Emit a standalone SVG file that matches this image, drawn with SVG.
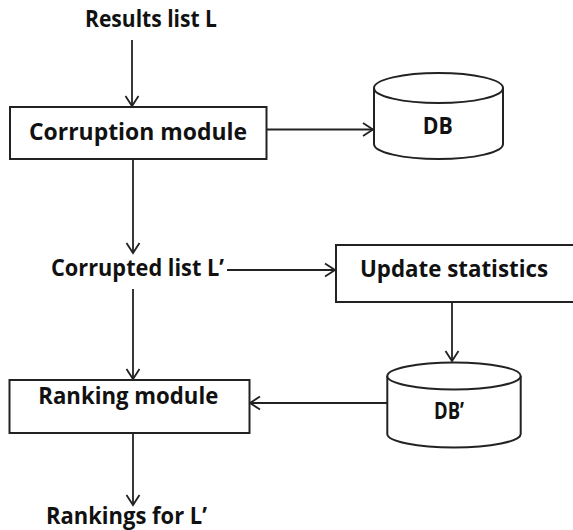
<svg xmlns="http://www.w3.org/2000/svg" width="573" height="530" viewBox="0 0 573 530">
<defs>
<style>
.box{fill:#fff;stroke:#222;stroke-width:2}
.cyl{fill:#fff;stroke:#222;stroke-width:2}
.lbl{font-family:"Open Sans","Liberation Sans",sans-serif;font-weight:bold;font-size:23px;fill:#111;text-anchor:middle}
.con{fill:none;stroke:#222;stroke-width:1.8;marker-end:url(#arr)}
</style>
<marker id="arr" viewBox="-12 -8 14 16" refX="0" refY="0" markerWidth="14" markerHeight="16" markerUnits="userSpaceOnUse" orient="auto">
<path d="M-10,-6.5 L0,0 L-10,6.5" fill="none" stroke="#222" stroke-width="1.8"/>
</marker>
</defs>
<rect width="573" height="530" fill="#fff"/>
<g id="connectors">
<line class="con" x1="132" y1="40" x2="132" y2="106"/>
<line class="con" x1="267" y1="129.5" x2="373" y2="129.5"/>
<line class="con" x1="133" y1="159" x2="133" y2="253"/>
<line class="con" x1="227" y1="270" x2="335" y2="270"/>
<line class="con" x1="133" y1="289" x2="133" y2="379"/>
<line class="con" x1="452" y1="302" x2="452" y2="361"/>
<line class="con" x1="387" y1="403" x2="250" y2="403"/>
<line class="con" x1="133" y1="433" x2="133" y2="505"/>
</g>
<g id="results">
<text class="lbl" x="151" y="27" textLength="132" lengthAdjust="spacingAndGlyphs">Results list L</text>
</g>
<g id="corruption">
<rect class="box" x="10" y="107" width="256.5" height="52"/>
<text class="lbl" x="138" y="139.5" textLength="218" lengthAdjust="spacingAndGlyphs">Corruption module</text>
</g>
<g id="db">
<path class="cyl" d="M374,88 L374,144 A64.5,15 0 0 0 503,144 L503,88"/>
<ellipse class="cyl" cx="438.5" cy="88" rx="64.5" ry="15"/>
<text class="lbl" x="437.7" y="133.5" textLength="30" lengthAdjust="spacingAndGlyphs">DB</text>
</g>
<g id="corrupted">
<text class="lbl" x="137.5" y="275.5" textLength="173" lengthAdjust="spacingAndGlyphs">Corrupted list L’</text>
</g>
<g id="update">
<rect class="box" x="336" y="245" width="245" height="57"/>
<text class="lbl" x="454" y="277" textLength="188" lengthAdjust="spacingAndGlyphs">Update statistics</text>
</g>
<g id="dbprime">
<path class="cyl" d="M387.3,376 L387.3,434 A66.7,13.5 0 0 0 520.7,434 L520.7,376"/>
<ellipse class="cyl" cx="454" cy="376" rx="66.7" ry="13.5"/>
<text class="lbl" x="449" y="419" textLength="30" lengthAdjust="spacingAndGlyphs">DB’</text>
</g>
<g id="ranking">
<rect class="box" x="9.5" y="380" width="240" height="53"/>
<text class="lbl" x="128.3" y="404" textLength="180" lengthAdjust="spacingAndGlyphs">Ranking module</text>
</g>
<g id="rankings">
<text class="lbl" x="126.5" y="524" textLength="161" lengthAdjust="spacingAndGlyphs">Rankings for L’</text>
</g>
</svg>
